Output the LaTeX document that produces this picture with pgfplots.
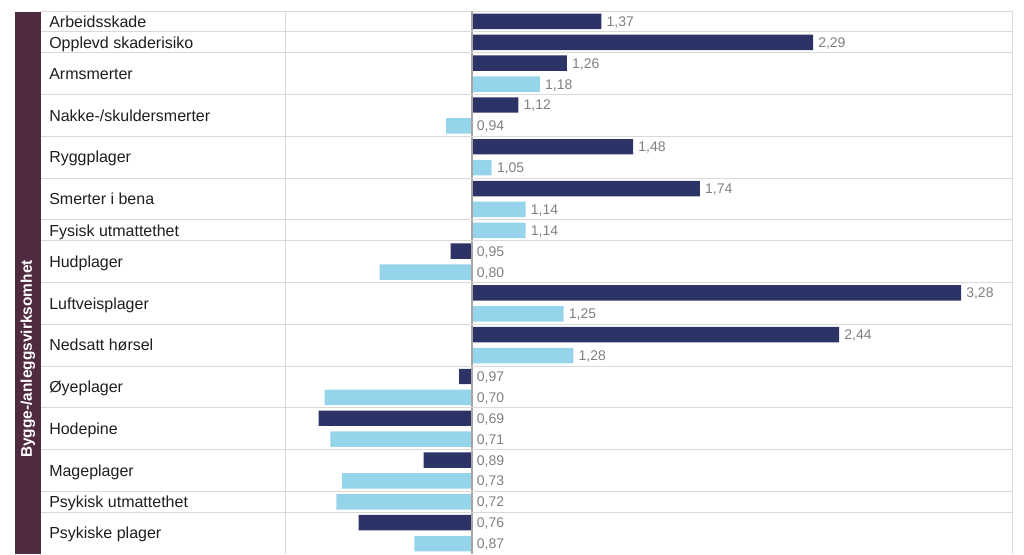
\documentclass[border=0pt]{standalone}
\usepackage{pgfplots}
\pgfplotsset{compat=1.18}
\usepackage{pgfplotstable}
\usepackage{fontspec}
\setmainfont{Liberation Sans}
\definecolor{darkbar}{RGB}{44,51,103}
\definecolor{lightbar}{RGB}{150,212,236}
\definecolor{bandc}{RGB}{79,42,64}
\definecolor{gridc}{RGB}{217,217,217}
\definecolor{centc}{RGB}{165,165,165}
\definecolor{labc}{RGB}{128,128,128}
\definecolor{catc}{RGB}{30,30,30}

\pgfplotstableread{
y v lx lab
0 1.37 1.37 1,37
1 2.29 2.29 2,29
2 1.26 1.26 1,26
4 1.12 1.12 1,12
6 1.48 1.48 1,48
8 1.74 1.74 1,74
11 0.95 1 0,95
13 3.28 3.28 3,28
15 2.44 2.44 2,44
17 0.97 1 0,97
19 0.69 1 0,69
21 0.89 1 0,89
24 0.76 1 0,76
}\darkdata

\pgfplotstableread{
y v lx lab
3 1.18 1.18 1,18
5 0.94 1 0,94
7 1.05 1.05 1,05
9 1.14 1.14 1,14
10 1.14 1.14 1,14
12 0.80 1 0,80
14 1.25 1.25 1,25
16 1.28 1.28 1,28
18 0.70 1 0,70
20 0.71 1 0,71
22 0.73 1 0,73
23 0.72 1 0,72
25 0.87 1 0,87
}\lightdata

\begin{document}
\begin{tikzpicture}
\useasboundingbox (0,0) rectangle (768pt,415.5pt);
\begin{axis}[
  at={(30.75pt,0pt)}, anchor=south west,
  width=728.5pt, height=407.25pt, scale only axis,
  xmode=log, log origin x=0,
  xmin=0.35166, xmax=3.715,
  ymin=-0.5, ymax=25.5, y dir=reverse,
  axis x line*=top,
  axis line style={gridc, line width=0.75pt},
  xtick={0.6373}, xticklabels={},
  xmajorgrids,
  major grid style={gridc, line width=0.75pt},
  extra x ticks={1}, extra x tick labels={},
  extra x tick style={grid=major, major grid style={centc, line width=1.5pt}},
  ytick={0,1,2.5,4.5,6.5,8.5,10,11.5,13.5,15.5,17.5,19.5,21.5,23,24.5},
  yticklabels={Arbeidsskade,Opplevd skaderisiko,Armsmerter,Nakke-/skuldersmerter,Ryggplager,Smerter i bena,Fysisk utmattethet,Hudplager,Luftveisplager,Nedsatt hørsel,Øyeplager,Hodepine,Mageplager,Psykisk utmattethet,Psykiske plager},
  yticklabel style={anchor=base west, xshift=6pt, yshift=-4.3pt, inner sep=0pt, font=\fontsize{12}{14}\selectfont, text=catc},
  extra y ticks={0.5,1.5,3.5,5.5,7.5,9.5,10.5,12.5,14.5,16.5,18.5,20.5,22.5,23.5},
  extra y tick labels={},
  extra y tick style={grid=major},
  major tick length=0pt, minor tick length=0pt,
  axis on top, clip=false,
]
\addplot[xbar, bar width=11.6pt, bar shift=0pt, fill=darkbar, draw=none] table[x=v, y=y] {\darkdata};
\addplot[xbar, bar width=11.6pt, bar shift=0pt, fill=lightbar, draw=none] table[x=v, y=y] {\lightdata};
\addplot[draw=none, mark=none, nodes near coords, point meta=explicit symbolic,
  every node near coord/.append style={anchor=base west, xshift=3.75pt, yshift=-3.75pt, inner sep=0pt, text=labc, font=\fontsize{10.5}{12}\selectfont}]
  table[x=lx, y=y, meta=lab] {\darkdata};
\addplot[draw=none, mark=none, nodes near coords, point meta=explicit symbolic,
  every node near coord/.append style={anchor=base west, xshift=3.75pt, yshift=-3.75pt, inner sep=0pt, text=labc, font=\fontsize{10.5}{12}\selectfont}]
  table[x=lx, y=y, meta=lab] {\lightdata};
\end{axis}
\fill[bandc] (11.25pt,0pt) rectangle (30.75pt,406.5pt);
\node[rotate=90, text=white, inner sep=0pt, font=\bfseries\fontsize{11.6}{13}\selectfont] at (21pt,146.25pt) {Bygge-/anleggsvirksomhet};
\end{tikzpicture}
\end{document}
